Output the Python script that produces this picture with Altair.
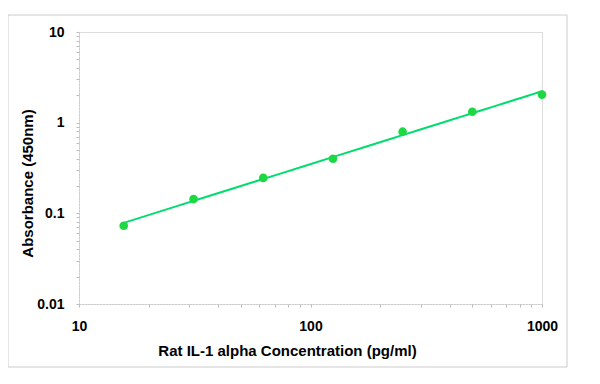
import altair as alt
import pandas as pd

# Data
conc = [15.6, 31.25, 62.5, 125, 250, 500, 1000]
od = [0.073, 0.144, 0.246, 0.40, 0.795, 1.32, 2.04]

x_major = [10, 100, 1000]
y_major = [0.01, 0.1, 1, 10]
x_ticks = [round(m * 10 ** e, 6) for e in (1, 2) for m in range(1, 10)] + [1000]
y_ticks = [round(m * 10 ** e, 6) for e in (-2, -1, 0) for m in range(1, 10)] + [10]

df = pd.DataFrame({"conc": conc, "od": od})

FONT = "Liberation Sans"
AX = "#bdbdbd"

xscale = alt.Scale(type="log", domain=[10, 1000], nice=False)
yscale = alt.Scale(type="log", domain=[0.01, 10], nice=False)

xaxis = alt.Axis(
    values=x_ticks,
    labelExpr="indexof(%s, datum.value) >= 0 ? datum.label : ''" % str(x_major),
    format="~g",
    grid=False,
    domainColor=AX,
    domainDash=[1, 2],
    tickColor=AX,
    tickSize=3,
    labelPadding=12,
    labelFont=FONT,
    labelFontSize=14,
    labelFontWeight="bold",
    labelColor="black",
    labelFlush=False,
    labelOverlap=False,
    title="Rat IL-1 alpha Concentration (pg/ml)",
    titleFont=FONT,
    titleFontSize=15,
    titleFontWeight="bold",
    titleColor="black",
    titleX=208,
    titleY=46,
    titleAlign="center",
    titleBaseline="middle",
)

yaxis = alt.Axis(
    values=y_ticks,
    labelExpr="indexof(%s, datum.value) >= 0 ? datum.label : ''" % str(y_major),
    format="~g",
    grid=False,
    domainColor=AX,
    domainDash=[1, 2],
    tickColor=AX,
    tickSize=3,
    labelPadding=12,
    labelFont=FONT,
    labelFontSize=14,
    labelFontWeight="bold",
    labelColor="black",
    labelFlush=False,
    labelOverlap=False,
    title="Absorbance (450nm)",
    titleFont=FONT,
    titleFontSize=15,
    titleFontWeight="bold",
    titleColor="black",
    titleX=-52,
    titleY=151,
    titleAngle=270,
    titleAlign="center",
    titleBaseline="middle",
)

base = alt.Chart(df)

fit = base.transform_regression(
    "conc", "od", method="pow", extent=[15.6, 1000]
).mark_line(color="#00dd6e", strokeWidth=2).encode(
    x=alt.X("conc:Q", scale=xscale, axis=xaxis),
    y=alt.Y("od:Q", scale=yscale, axis=yaxis),
)

pts = base.mark_circle(color="#1ed843", size=75, opacity=1).encode(
    x=alt.X("conc:Q", scale=xscale),
    y=alt.Y("od:Q", scale=yscale),
)

frame = alt.Chart(pd.DataFrame({"k": [0]})).mark_rect(
    fillOpacity=0, stroke="#cccccc", strokeWidth=1
).encode(
    x=alt.value(-71), x2=alt.value(488), y=alt.value(-17), y2=alt.value(335)
)

chart = alt.layer(frame, fit, pts).properties(
    width=463,
    height=272,
    autosize=alt.AutoSizeParams(type="none"),
    padding={"left": 71, "top": 24, "right": 28, "bottom": 66},
).configure_view(stroke=None).configure(background="white")

chart.save("out.html", embed_options={"renderer": "svg", "actions": False})
